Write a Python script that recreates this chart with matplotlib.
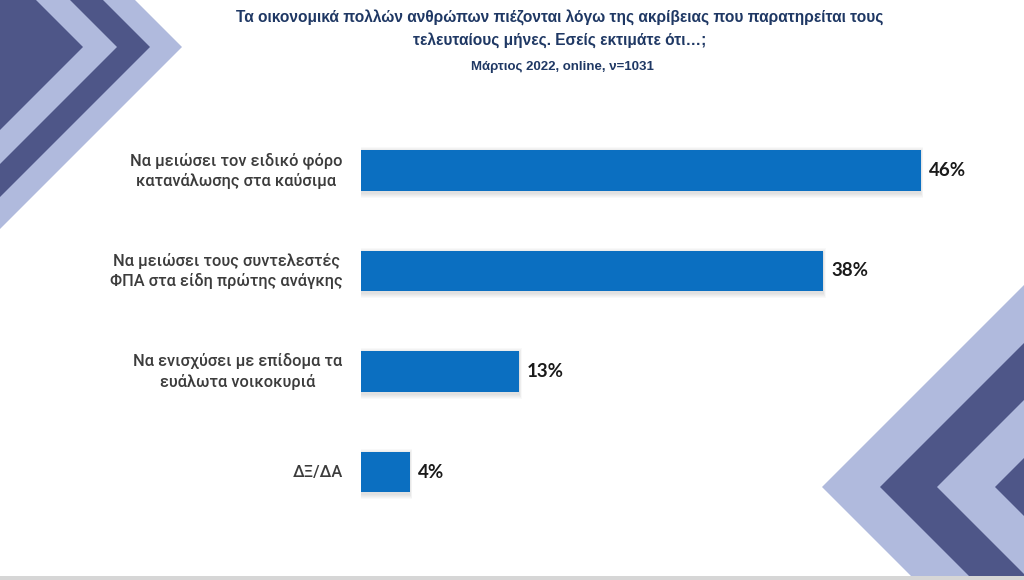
import matplotlib
matplotlib.use('Agg')
import matplotlib.pyplot as plt
from matplotlib.patches import Polygon, Rectangle

# data
categories = [
    'Να μειώσει τον ειδικό φόρο\nκατανάλωσης στα καύσιμα',
    'Να μειώσει τους συντελεστές\nΦΠΑ στα είδη πρώτης ανάγκης',
    'Να ενισχύσει με επίδομα τα\nευάλωτα νοικοκυριά',
    'ΔΞ/ΔΑ',
]
values = [46, 38, 13, 4]
title = ('Τα οικονομικά πολλών ανθρώπων πιέζονται λόγω της ακρίβειας που παρατηρείται τους\n'
         'τελευταίους μήνες. Εσείς εκτιμάτε ότι…;')
subtitle = 'Μάρτιος 2022, online, ν=1031'

BAR = '#0b6fc1'
LIGHT = '#b0badd'
DARK = '#4e5688'
TITLE_C = '#1f3864'
W, H = 1024, 580

fig = plt.figure(figsize=(W / 100, H / 100), dpi=100)

# background decoration, pixel coords
bg = fig.add_axes([0, 0, 1, 1])
bg.set_xlim(0, W)
bg.set_ylim(H, 0)
bg.axis('off')

# left chevron, apex at y=47
for a, c in [(182, LIGHT), (150, DARK), (117, LIGHT), (83, DARK)]:
    bg.add_patch(Polygon([(0, 47 - a), (a, 47), (0, 47 + a)], closed=True, color=c, lw=0))
# bottom right chevron, apex at y=487
for b, c in [(822, LIGHT), (880, DARK), (937, LIGHT), (995, DARK)]:
    d = W - b
    bg.add_patch(Polygon([(W, 487 - d), (b, 487), (W, 487 + d)], closed=True, color=c, lw=0))
bg.add_patch(Rectangle((0, 576), W, 4, color='#d6d6d6', lw=0))

fig.text(0.547, 1 - 10 / H, title, ha='center', va='top', fontsize=11.2,
         color=TITLE_C, family='Liberation Sans', fontweight='bold',
         linespacing=1.5)
fig.text(0.549, 1 - 61 / H, subtitle, ha='center', va='top', fontsize=9.5,
         color=TITLE_C, family='Liberation Sans', fontweight='bold')

# main bar chart
px_per = 12.17
xmax = 50
left = 361
top, bottom = 120.25, 522.25
ax = fig.add_axes([left / W, (H - bottom) / H, xmax * px_per / W, (bottom - top) / H])
ax.patch.set_alpha(0)
y = list(range(len(values)))
unit_y = 1 / 100.5  # data units per pixel vertically

# soft shadow under bars
for k in range(1, 6):
    ax.barh([v + 2 * unit_y for v in y], [v + k * 0.5 / px_per * 2 for v in values],
            height=0.4 + 2 * k * unit_y, left=-k * 0.5 / px_per,
            color='black', alpha=0.025, lw=0)
ax.barh(y, values, height=0.4, color=BAR, lw=0)

for yi, v in zip(y, values):
    ax.text(v + 0.65, yi, f'{v}%', va='center', ha='left', fontsize=13.5,
            fontweight='bold', color='#1a1a1a', family=['Lato', 'DejaVu Sans'])
    ax.text(-1.5, yi, categories[yi], va='center', ha='right', multialignment='center',
            fontsize=11.8, color='#3c3c3c', family=['Roboto', 'DejaVu Sans'],
            fontweight='medium', linespacing=1.35)

ax.set_xlim(0, xmax)
ax.set_ylim(len(values) - 0.5, -0.5)
ax.axis('off')

fig.savefig('out.png', dpi=100)
